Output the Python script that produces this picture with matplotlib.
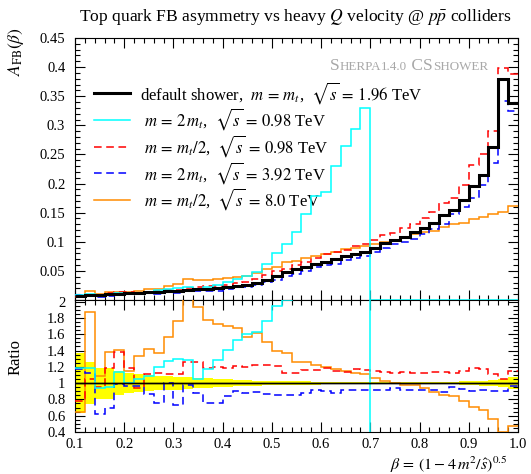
import numpy as np
import matplotlib
matplotlib.use("Agg")
import matplotlib.pyplot as plt
from matplotlib.ticker import MultipleLocator, FuncFormatter
from matplotlib.offsetbox import TextArea, HPacker, AnchoredOffsetbox
from matplotlib.lines import Line2D

plt.rcParams['font.family'] = ['Liberation Serif', 'DejaVu Serif']
plt.rcParams['mathtext.fontset'] = 'stix'

# ---------------- data ----------------
beta_edges = np.round(np.arange(0.10, 1.001, 0.02), 2)

afb_default = [0.0068, 0.0080, 0.0088, 0.0095, 0.0103, 0.0112, 0.0121, 0.0130, 0.0140, 0.0150,
               0.0160, 0.0170, 0.0182, 0.0195, 0.0208, 0.0222, 0.0240, 0.0262, 0.0290, 0.0350,
               0.0410, 0.0480, 0.0530, 0.0570, 0.0620, 0.0660, 0.0710, 0.0760, 0.0790, 0.0830,
               0.0900, 0.0980, 0.1030, 0.1090, 0.1160, 0.1240, 0.1330, 0.1460, 0.1550, 0.1710,
               0.1950, 0.2140, 0.2620, 0.3790, 0.3380]

afb_2mt_098 = [0.0081, 0.0095, 0.0083, 0.0091, 0.0117, 0.0112, 0.0127, 0.0142, 0.0167, 0.0191,
               0.0208, 0.0218, 0.0191, 0.0228, 0.0266, 0.0311, 0.0367, 0.0419, 0.0473, 0.0616,
               0.0800, 0.0970, 0.1160, 0.1480, 0.1780, 0.1850, 0.2310, 0.2640, 0.2930, 0.3290,
               0.0, 0.0, 0.0, 0.0, 0.0, 0.0, 0.0, 0.0, 0.0, 0.0,
               0.0, 0.0, 0.0, 0.0, 0.0]

afb_halfmt_098 = [0.0053, 0.0084, 0.0084, 0.0113, 0.0142, 0.0133, 0.0114, 0.0144, 0.0157, 0.0167,
                  0.0178, 0.0214, 0.0229, 0.0232, 0.0248, 0.0262, 0.0290, 0.0314, 0.0354, 0.0427,
                  0.0496, 0.0538, 0.0599, 0.0661, 0.0722, 0.0785, 0.0817, 0.0866, 0.0928, 0.0963,
                  0.1035, 0.1117, 0.1159, 0.1232, 0.1305, 0.1401, 0.1516, 0.1664, 0.1744, 0.1967,
                  0.2321, 0.2504, 0.2908, 0.3980, 0.3887]

afb_2mt_392 = [0.0080, 0.0090, 0.0055, 0.0066, 0.0102, 0.0108, 0.0116, 0.0112, 0.0106, 0.0150,
               0.0118, 0.0167, 0.0160, 0.0148, 0.0158, 0.0186, 0.0216, 0.0231, 0.0258, 0.0305,
               0.0349, 0.0408, 0.0451, 0.0502, 0.0564, 0.0594, 0.0625, 0.0692, 0.0727, 0.0764,
               0.0819, 0.0892, 0.0968, 0.0992, 0.1056, 0.1141, 0.1224, 0.1299, 0.1480, 0.1590,
               0.1755, 0.1969, 0.2358, 0.3411, 0.3245]

afb_halfmt_80 = [0.0044, 0.0150, 0.0096, 0.0131, 0.0145, 0.0129, 0.0161, 0.0185, 0.0192, 0.0234,
                 0.0282, 0.0366, 0.0351, 0.0345, 0.0360, 0.0377, 0.0401, 0.0411, 0.0470, 0.0525,
                 0.0570, 0.0658, 0.0670, 0.0720, 0.0760, 0.0790, 0.0830, 0.0870, 0.0890, 0.0920,
                 0.0960, 0.1000, 0.1030, 0.1070, 0.1130, 0.1160, 0.1190, 0.1250, 0.1300, 0.1330,
                 0.1390, 0.1430, 0.1480, 0.1510, 0.1620]

default_rel_err = [0.37, 0.26, 0.19, 0.19, 0.15, 0.12, 0.11, 0.10, 0.09, 0.085,
                   0.08, 0.07, 0.065, 0.06, 0.05, 0.045, 0.04, 0.035, 0.03, 0.028,
                   0.026, 0.024, 0.022, 0.02, 0.018, 0.017, 0.016, 0.015, 0.014, 0.013,
                   0.012, 0.012, 0.011, 0.011, 0.011, 0.012, 0.013, 0.014, 0.016, 0.02,
                   0.025, 0.03, 0.04, 0.05, 0.07]

series = [
    (afb_default, 'default shower,  $m\\,=\\,m_t$,  $\\sqrt{s}\\,=\\,1.96$ TeV', 'black', '-', 2.2),
    (afb_2mt_098, ' $m\\,=\\,2\\,m_t$,  $\\sqrt{s}\\,=\\,0.98$ TeV', '#00ffff', '-', 1.1),
    (afb_halfmt_098, ' $m\\,=\\,m_t/2$,  $\\sqrt{s}\\,=\\,0.98$ TeV', '#ff0000', (0, (5, 3)), 1.1),
    (afb_2mt_392, ' $m\\,=\\,2\\,m_t$,  $\\sqrt{s}\\,=\\,3.92$ TeV', '#0000ff', (0, (5, 3)), 1.1),
    (afb_halfmt_80, ' $m\\,=\\,m_t/2$,  $\\sqrt{s}\\,=\\,8.0$ TeV', '#ff8c00', '-', 1.1),
]

# ---------------- figure ----------------
W, H = 531, 474
fig = plt.figure(figsize=(W / 100, H / 100), dpi=100)
ax = fig.add_axes([75 / W, (H - 300) / H, 443 / W, 262 / H])
rax = fig.add_axes([75 / W, (H - 432) / H, 443 / W, 132 / H])

ref = np.array(afb_default)
err = np.array(default_rel_err)

# ratio band
rax.stairs(1 + err, beta_edges, baseline=1 - err, fill=True, color='#ffff00', lw=0, zorder=1)

for idx in [4, 3, 2, 1, 0]:
    vals, lab, col, ls, lw = series[idx]
    v = np.array(vals)
    z = 10 if idx == 0 else 3 + (5 - idx)
    ax.stairs(v, beta_edges, color=col, linestyle=ls, lw=lw, baseline=None, zorder=z)
    rax.stairs(v / ref, beta_edges, color=col, linestyle=ls, lw=(1.0 if idx == 0 else lw),
               baseline=None, zorder=z)

leg_handles = [Line2D([], [], color=s[2], linestyle=s[3], lw=s[4]) for s in series]
ax.legend(leg_handles, [s[1] for s in series], loc='upper left',
          bbox_to_anchor=(0.042, 0.84), frameon=False, fontsize=12,
          handlelength=2.2, handletextpad=0.6, labelspacing=0.05,
          borderaxespad=0.0, borderpad=0.0)

# axes ranges
ax.set_xlim(0.1, 1.0)
ax.set_ylim(0.0, 0.45)
rax.set_xlim(0.1, 1.0)
rax.set_ylim(0.4, 2.02)

for a in (ax, rax):
    a.xaxis.set_major_locator(MultipleLocator(0.1))
    a.xaxis.set_minor_locator(MultipleLocator(0.02))
    a.tick_params(which='both', direction='in', top=True, right=True, labelsize=10.5,
                  width=0.8)
    a.tick_params(which='major', length=7)
    a.tick_params(which='minor', length=3.5)
    a.tick_params(axis='y', which='major', pad=7)
ax.yaxis.set_major_locator(MultipleLocator(0.05))
ax.yaxis.set_minor_locator(MultipleLocator(0.01))
rax.yaxis.set_major_locator(MultipleLocator(0.2))
rax.yaxis.set_minor_locator(MultipleLocator(0.05))
rax.tick_params(axis='x', which='major', pad=4.5)
ax.tick_params(labelbottom=False)
ax.yaxis.set_major_formatter(FuncFormatter(lambda v, p: '' if abs(v) < 1e-9 else ('%g' % round(v, 2))))
rax.yaxis.set_major_formatter(FuncFormatter(lambda v, p: '%g' % round(v, 2)))
rax.xaxis.set_major_formatter(FuncFormatter(lambda v, p: '%.1f' % v))
rax.axhline(1.0, color='black', lw=1.0, zorder=11)

# texts
fig.text(295 / W, 1 - 17 / H,
         'Top quark FB asymmetry vs heavy $Q$ velocity @ $p\\bar{p}$ colliders',
         ha='center', va='center', fontsize=12.6)
fig.text(16 / W, 1 - 27 / H, '$A_{\\mathrm{FB}}(\\beta)$', rotation=90,
         ha='center', va='top', fontsize=12.5)
fig.text(16 / W, 1 - 357 / H, 'Ratio', rotation=90, ha='center', va='center', fontsize=12)
fig.text(507 / W, 1 - 470 / H, '$\\beta\\,=\\,\\left(1-4\\,m^2/\\hat{s}\\right)^{0.5}$',
         ha='right', va='baseline', fontsize=11.5)

# Sherpa small-caps label
gray = '#a8a8a8'
big, small = 12.5, 9.4
pieces = [('S', big), ('HERPA', small), ('1.4.0', small), (' CS', big), ('SHOWER', small)]
boxes = [TextArea(t, textprops=dict(fontsize=s, color=gray)) for t, s in pieces]
pack = HPacker(children=boxes, align='baseline', pad=0, sep=0)
anch = AnchoredOffsetbox(loc='center right', child=pack, frameon=False,
                         bbox_to_anchor=(488 / W, 1 - 66 / H), bbox_transform=fig.transFigure,
                         borderpad=0, pad=0)
ax.add_artist(anch)

fig.savefig('out.png', dpi=100)
